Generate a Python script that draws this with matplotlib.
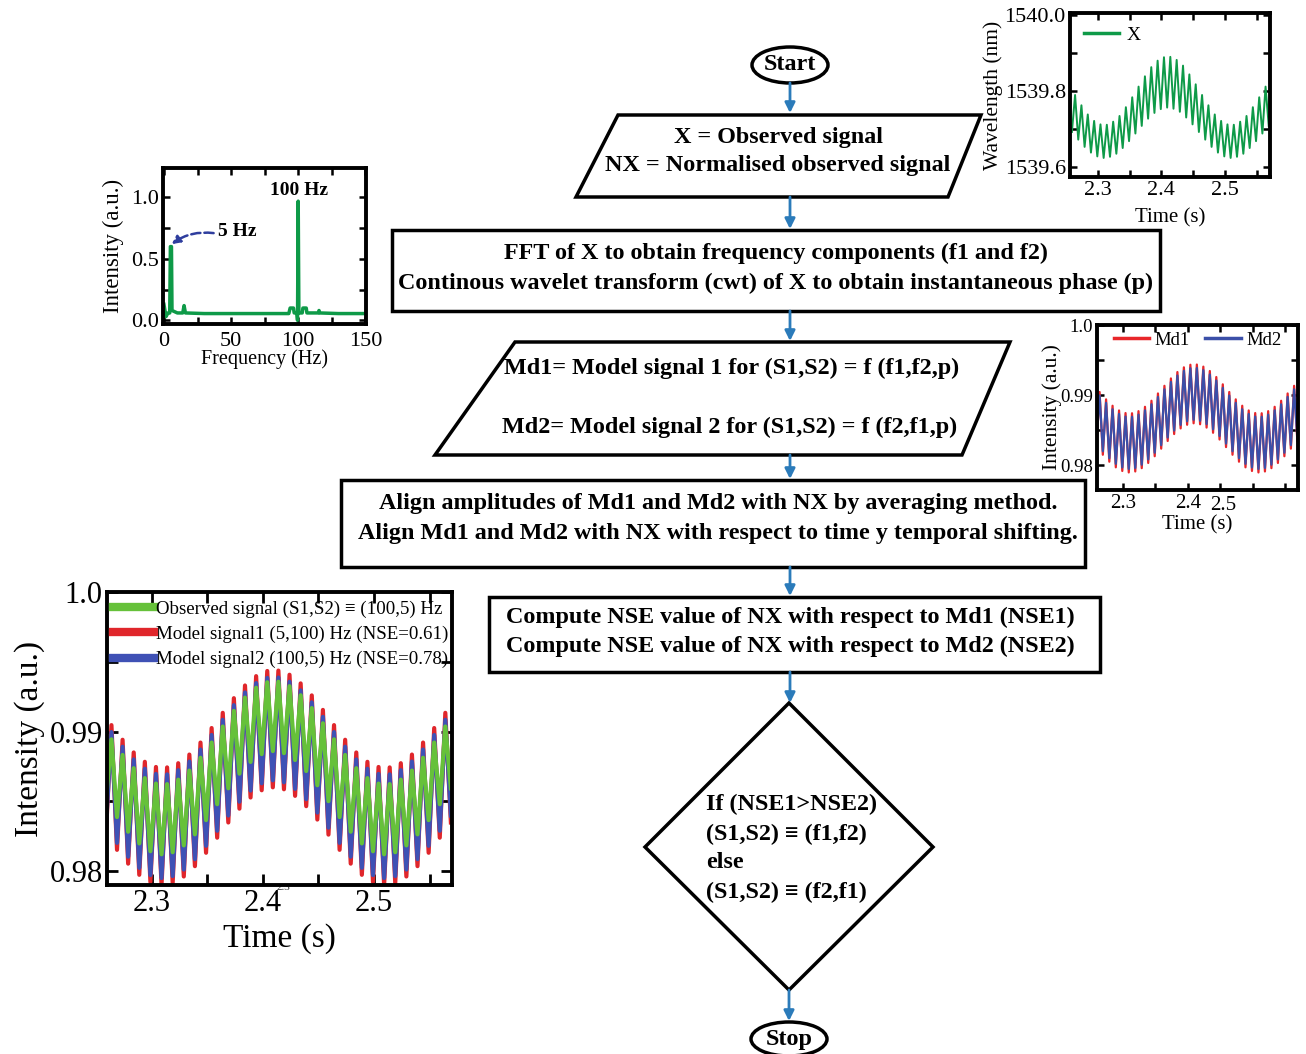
import numpy as np
import matplotlib
matplotlib.use("Agg")
import matplotlib.pyplot as plt
from matplotlib.patches import Polygon, Ellipse, Rectangle
from matplotlib.ticker import MultipleLocator

plt.rcParams["font.family"] = ["Liberation Serif", "DejaVu Serif"]

W, H = 1306, 1054

# time of every half period of the 100 Hz part (trough, peak, trough, ...)
t_half = np.round(2.259 + 0.005 * np.arange(63), 3)

# Model signal 1 (red)
red_peaks = [0.99046, 0.98941, 0.98850, 0.98783, 0.98746, 0.98743, 0.98773, 0.98835, 0.98921, 0.99025,
             0.99134, 0.99239, 0.99330, 0.99397, 0.99434, 0.99437, 0.99407, 0.99345, 0.99259, 0.99155,
             0.99046, 0.98941, 0.98850, 0.98783, 0.98746, 0.98743, 0.98773, 0.98835, 0.98921, 0.99025, 0.99134]
red_troughs = [0.98261, 0.98152, 0.98053, 0.97973, 0.97921, 0.97900, 0.97914, 0.97961, 0.98035, 0.98131,
               0.98239, 0.98348, 0.98447, 0.98527, 0.98579, 0.98600, 0.98586, 0.98539, 0.98465, 0.98369,
               0.98261, 0.98152, 0.98053, 0.97973, 0.97921, 0.97900, 0.97914, 0.97961, 0.98035, 0.98131,
               0.98239, 0.98348]

# Model signal 2 (blue)
blue_peaks = [0.98996, 0.98891, 0.98800, 0.98733, 0.98696, 0.98693, 0.98723, 0.98785, 0.98871, 0.98975,
              0.99084, 0.99189, 0.99280, 0.99347, 0.99384, 0.99387, 0.99357, 0.99295, 0.99209, 0.99105,
              0.98996, 0.98891, 0.98800, 0.98733, 0.98696, 0.98693, 0.98723, 0.98785, 0.98871, 0.98975, 0.99084]
blue_troughs = [0.98311, 0.98202, 0.98103, 0.98023, 0.97971, 0.97950, 0.97964, 0.98011, 0.98085, 0.98181,
                0.98289, 0.98398, 0.98497, 0.98577, 0.98629, 0.98650, 0.98636, 0.98589, 0.98515, 0.98419,
                0.98311, 0.98202, 0.98103, 0.98023, 0.97971, 0.97950, 0.97964, 0.98011, 0.98085, 0.98181,
                0.98289, 0.98398]

# Observed normalised signal (green)
green_peaks = [0.98944, 0.98832, 0.98737, 0.98666, 0.98627, 0.98623, 0.98655, 0.98720, 0.98812, 0.98921,
               0.99036, 0.99148, 0.99243, 0.99314, 0.99353, 0.99357, 0.99325, 0.99260, 0.99168, 0.99059,
               0.98944, 0.98832, 0.98737, 0.98666, 0.98627, 0.98623, 0.98655, 0.98720, 0.98812, 0.98921, 0.99036]
green_troughs = [0.98501, 0.98387, 0.98282, 0.98198, 0.98142, 0.98120, 0.98135, 0.98184, 0.98263, 0.98365,
                 0.98479, 0.98593, 0.98698, 0.98782, 0.98838, 0.98860, 0.98845, 0.98796, 0.98717, 0.98615,
                 0.98501, 0.98387, 0.98282, 0.98198, 0.98142, 0.98120, 0.98135, 0.98184, 0.98263, 0.98365,
                 0.98479, 0.98593]

# Observed wavelength X (nm)
x_peaks = [1539.790, 1539.763, 1539.739, 1539.722, 1539.713, 1539.712, 1539.720, 1539.735, 1539.758, 1539.784,
           1539.812, 1539.839, 1539.863, 1539.880, 1539.889, 1539.890, 1539.882, 1539.867, 1539.844, 1539.818,
           1539.790, 1539.763, 1539.739, 1539.722, 1539.713, 1539.712, 1539.720, 1539.735, 1539.758, 1539.784,
           1539.812]
x_troughs = [1539.693, 1539.673, 1539.654, 1539.639, 1539.629, 1539.625, 1539.628, 1539.636, 1539.651, 1539.669,
             1539.689, 1539.709, 1539.728, 1539.743, 1539.753, 1539.757, 1539.754, 1539.746, 1539.731, 1539.713,
             1539.693, 1539.673, 1539.654, 1539.639, 1539.629, 1539.625, 1539.628, 1539.636, 1539.651, 1539.669,
             1539.689, 1539.709]

# FFT spectrum of X
fft_freq = [0, 1.5, 3, 4.3, 4.8, 5.6, 6.0, 8, 10, 14, 15, 16, 30, 50, 70, 93, 94, 96.5, 97, 99,
            99.5, 100, 100.5, 103, 103.5, 106, 106.5, 115, 115.5, 116, 130, 150]
fft_amp = [0.13, 0.03, 0.06, 0.06, 0.60, 0.60, 0.08, 0.07, 0.06, 0.06, 0.12, 0.06, 0.055, 0.055, 0.055, 0.055,
           0.10, 0.10, 0.06, 0.06, 0.0, 0.97, 0.06, 0.06, 0.10, 0.10, 0.06, 0.06, 0.08, 0.06, 0.055, 0.055]


def zigzag(troughs, peaks):
    y = [troughs[0]]
    for p, tr in zip(peaks, troughs[1:]):
        y += [p, tr]
    return np.array(y)


red = zigzag(red_troughs, red_peaks)
blue = zigzag(blue_troughs, blue_peaks)
green = zigzag(green_troughs, green_peaks)
xsig = zigzag(x_troughs, x_peaks)

fig = plt.figure(figsize=(W / 100, H / 100), dpi=100)

# ---- flowchart in pixel coordinates ----
ax0 = fig.add_axes([0, 0, 1, 1])
ax0.set_xlim(0, W)
ax0.set_ylim(H, 0)
ax0.axis("off")

EC = "black"
LW = 2.5
ARROW = "#2b7bba"
FS = 17.4


def poly(pts):
    ax0.add_patch(Polygon(pts, closed=True, facecolor="white", edgecolor=EC, lw=LW))


def box(x0, y0, x1, y1):
    ax0.add_patch(Rectangle((x0, y0), x1 - x0, y1 - y0, facecolor="white", edgecolor=EC, lw=LW))


def arrow(x, y0, y1):
    ax0.annotate("", xy=(x, y1), xytext=(x, y0),
                 arrowprops=dict(arrowstyle="-|>", color=ARROW, lw=2, mutation_scale=15, shrinkA=0, shrinkB=0))


def txt(x, y, s, ha="center", size=FS):
    ax0.text(x, y, s, ha=ha, va="center", fontsize=size, fontweight="bold")


ax0.add_patch(Ellipse((790, 65), 76, 36, facecolor="white", edgecolor=EC, lw=LW))
txt(790, 65, "Start")
arrow(790, 83, 113)

poly([(618, 115), (981, 115), (948, 197), (576, 197)])
txt(778, 137, "X = Observed signal")
txt(778, 166, "NX = Normalised observed signal")
arrow(790, 197, 229)

box(392, 230, 1160, 311)
txt(776, 253, "FFT of X to obtain frequency components (f1 and f2)")
txt(776, 283, "Continous wavelet transform (cwt) of X to obtain instantaneous phase (p)")
arrow(790, 311, 341)

poly([(515, 342), (1010, 342), (962, 455), (435, 455)])
txt(732, 368, "Md1= Model signal 1 for (S1,S2) = f (f1,f2,p)")
txt(730, 427, "Md2= Model signal 2 for (S1,S2) = f (f2,f1,p)")
arrow(790, 455, 479)

box(341, 480, 1085, 567)
txt(718, 504, "Align amplitudes of Md1 and Md2 with NX by averaging method.")
txt(718, 533, "Align Md1 and Md2 with NX with respect to time y temporal shifting.")
arrow(790, 567, 596)

box(489, 597, 1100, 672)
txt(790, 617, "Compute NSE value of NX with respect to Md1 (NSE1)")
txt(790, 646, "Compute NSE value of NX with respect to Md2 (NSE2)")
arrow(790, 672, 703)

poly([(789, 703), (933, 847), (789, 990), (645, 847)])
txt(706, 804, "If (NSE1>NSE2)", ha="left")
txt(706, 834, "(S1,S2) \u2261 (f1,f2)", ha="left")
txt(706, 863, "else", ha="left")
txt(706, 892, "(S1,S2) \u2261 (f2,f1)", ha="left")
arrow(789, 990, 1021)

ax0.add_patch(Ellipse((789, 1039), 76, 34, facecolor="white", edgecolor=EC, lw=LW))
txt(789, 1039, "Stop")

ax0.text(283, 887, "2.3", ha="center", va="center", fontsize=8, color="#333333")


# ---- inset plots ----
def inset(l, t, r, b, size):
    ax = fig.add_axes([l / W, 1 - b / H, (r - l) / W, (b - t) / H])
    ax.tick_params(direction="in", which="both", top=True, right=True, width=1.8, length=5,
                   labelsize=size, pad=3)
    for s in ax.spines.values():
        s.set_linewidth(2.8)
    return ax


# wavelength X
ax1 = inset(1070, 13, 1270, 177, 16)
ax1.plot(t_half, xsig, color="#0e9a48", lw=1.4, label="X")
ax1.set_xlim(2.256, 2.571)
ax1.set_ylim(1539.575, 1540.005)
ax1.set_xticks([2.3, 2.4, 2.5])
ax1.xaxis.set_minor_locator(MultipleLocator(0.05))
ax1.set_yticks([1539.6, 1539.8, 1540.0])
ax1.set_yticklabels(["1539.6", "1539.8", "1540.0"])
ax1.yaxis.set_minor_locator(MultipleLocator(0.1))
ax1.set_ylabel("Wavelength (nm)", fontsize=15.5)
ax1.set_xlabel("Time (s)", fontsize=15)
ax1.yaxis.set_label_coords(-0.335, 0.5)
ax1.xaxis.set_label_coords(0.5, -0.19)
leg1 = ax1.legend(loc="upper left", frameon=False, fontsize=14, handlelength=1.8, handletextpad=0.4,
                  borderaxespad=0.5, borderpad=0.2)
leg1.get_lines()[0].set_linewidth(2.5)

# FFT
ax2 = inset(163, 168, 366, 324, 16)
ax2.tick_params(axis="x", which="major", pad=6)
ax2.plot(fft_freq, fft_amp, color="#0e9a48", lw=2.5)
ax2.set_xlim(-0.7, 150.5)
ax2.set_ylim(-0.03, 1.24)
ax2.set_xticks([0, 50, 100, 150])
ax2.xaxis.set_minor_locator(MultipleLocator(25))
ax2.set_yticks([0, 0.5, 1.0])
ax2.set_yticklabels(["0.0", "0.5", "1.0"])
ax2.yaxis.set_minor_locator(MultipleLocator(0.25))
ax2.set_ylabel("Intensity (a.u.)", fontsize=16.5)
ax2.set_xlabel("Frequency (Hz)", fontsize=14.5)
ax2.yaxis.set_label_coords(-0.19, 0.5)
ax2.xaxis.set_label_coords(0.5, -0.165)
ax2.text(100.7, 1.06, "100 Hz", ha="center", va="center", fontsize=14, fontweight="bold")
ax2.text(54.5, 0.72, "5 Hz", ha="center", va="center", fontsize=14, fontweight="bold")
ax2.annotate("", xy=(5.8, 0.62), xytext=(37, 0.71),
             arrowprops=dict(arrowstyle="-|>", color="#2f3e9e", lw=1.8, ls="--", mutation_scale=12,
                             connectionstyle="arc3,rad=0.2", shrinkA=0, shrinkB=0))

# Md1 / Md2
ax3 = inset(1097, 325, 1298, 490, 13.5)
ax3.plot(t_half, red, color="#e8262a", lw=1.6, label="Md1")
ax3.plot(t_half, blue, color="#3b4fa8", lw=1.6, label="Md2")
ax3.set_xlim(2.26, 2.57)
ax3.set_ylim(0.9765, 1.0)
ax3.set_xticks([2.3, 2.4, 2.5])
ax3.set_xticklabels(["2.3", "2.4", ""])
ax3.xaxis.set_minor_locator(MultipleLocator(0.05))
ax3.text(2.455, -0.035, "2.5", transform=ax3.get_xaxis_transform(), ha="center", va="top", fontsize=15)
for lab in ax3.get_xticklabels():
    lab.set_fontsize(15)
ax3.set_yticks([0.98, 0.99, 1.0])
ax3.set_yticklabels(["0.98", "0.99", "1.0"])
ax3.yaxis.set_minor_locator(MultipleLocator(0.005))
ax3.set_ylabel("Intensity (a.u.)", fontsize=15.5)
ax3.set_xlabel("Time (s)", fontsize=15)
ax3.yaxis.set_label_coords(-0.175, 0.5)
ax3.xaxis.set_label_coords(0.5, -0.15)
leg3 = ax3.legend(loc="upper center", ncol=2, frameon=False, fontsize=13.5, handlelength=1.9, handletextpad=0.3,
                  columnspacing=0.8, borderaxespad=0.15, borderpad=0.2)
for line in leg3.get_lines():
    line.set_linewidth(2.5)

# main comparison plot
ax4 = inset(107, 592, 452, 885, 22)
ax4.tick_params(which="both", length=8, width=2)
ax4.plot(t_half, red, color="#e0262b", lw=3, label="Model signal1 (5,100) Hz (NSE=0.61)")
ax4.plot(t_half, blue, color="#3f51b5", lw=3, label="Model signal2 (100,5) Hz (NSE=0.78)")
ax4.plot(t_half, green, color="#66c13a", lw=3, label="Observed signal (S1,S2) \u2261 (100,5) Hz")
ax4.set_xlim(2.26, 2.57)
ax4.set_ylim(0.979, 1.0)
ax4.set_xticks([2.3, 2.4, 2.5])
ax4.xaxis.set_minor_locator(MultipleLocator(0.05))
ax4.set_yticks([0.98, 0.99, 1.0])
ax4.set_yticklabels(["0.98", "0.99", "1.0"])
ax4.yaxis.set_minor_locator(MultipleLocator(0.005))
ax4.set_ylabel("Intensity (a.u.)", fontsize=24)
ax4.set_xlabel("Time (s)", fontsize=24)
ax4.yaxis.set_label_coords(-0.18, 0.5)
ax4.xaxis.set_label_coords(0.5, -0.13)
h, l = ax4.get_legend_handles_labels()
leg = ax4.legend([h[2], h[0], h[1]], [l[2], l[0], l[1]], loc="upper left", bbox_to_anchor=(0.0, 0.99),
                 frameon=False, fontsize=13.6, handlelength=2.2, handletextpad=0.1, labelspacing=0.42,
                 borderaxespad=0.0, borderpad=0.3)
for line in leg.get_lines():
    line.set_linewidth(6)

fig.savefig("out.png", dpi=100)
